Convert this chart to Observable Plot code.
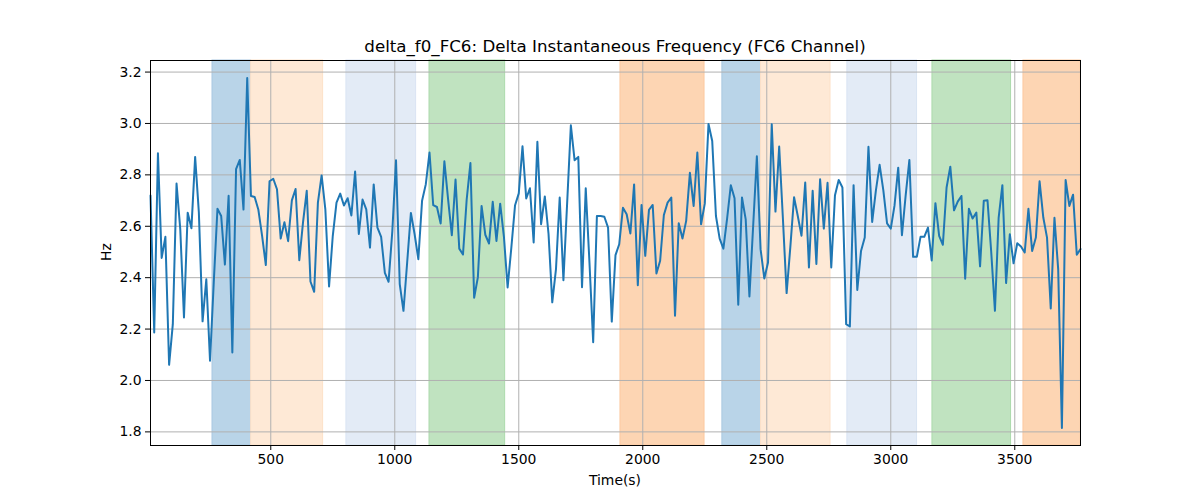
<!DOCTYPE html>
<html>
<head>
<meta charset="utf-8">
<script src="https://cdn.jsdelivr.net/npm/d3@7"></script>
<script src="https://cdn.jsdelivr.net/npm/@observablehq/plot@0.6"></script>
<style>
  html, body { margin: 0; padding: 0; background: #fff; }
  #wrap { position: relative; width: 1200px; height: 500px; font-family: "DejaVu Sans", sans-serif; }
  #title { position: absolute; left: 150px; width: 930px; top: 38px; text-align: center; font-size: 16.67px; line-height: 17px; color: #000; white-space: nowrap; }
  #xlabel { position: absolute; left: 150px; width: 930px; top: 473px; text-align: center; font-size: 13.9px; line-height: 14px; color: #000; }
  #ylabel { position: absolute; left: 106px; top: 252px; transform: translate(-50%, -50%) rotate(-90deg); font-size: 13.9px; line-height: 14px; color: #000; }
  svg { display: block; }
</style>
</head>
<body>
<div id="wrap">
  <div id="chart"></div>
  <div id="title">delta_f0_FC6: Delta Instantaneous Frequency (FC6 Channel)</div>
  <div id="xlabel">Time(s)</div>
  <div id="ylabel">Hz</div>
</div>
<script>
const times = [
  15,30,45,60,75,90,105,120,135,150,
  165,180,195,210,225,240,255,270,285,300,
  315,330,345,360,375,390,405,420,435,450,
  465,480,495,510,525,540,555,570,585,600,
  615,630,645,660,675,690,705,720,735,750,
  765,780,795,810,825,840,855,870,885,900,
  915,930,945,960,975,990,1005,1020,1035,1050,
  1065,1080,1095,1110,1125,1140,1155,1170,1185,1200,
  1215,1230,1245,1260,1275,1290,1305,1320,1335,1350,
  1365,1380,1395,1410,1425,1440,1455,1470,1485,1500,
  1515,1530,1545,1560,1575,1590,1605,1620,1635,1650,
  1665,1680,1695,1710,1725,1740,1755,1770,1785,1800,
  1815,1830,1845,1860,1875,1890,1905,1920,1935,1950,
  1965,1980,1995,2010,2025,2040,2055,2070,2085,2100,
  2115,2130,2145,2160,2175,2190,2205,2220,2235,2250,
  2265,2280,2295,2310,2325,2340,2355,2370,2385,2400,
  2415,2430,2445,2460,2475,2490,2505,2520,2535,2550,
  2565,2580,2595,2610,2625,2640,2655,2670,2685,2700,
  2715,2730,2745,2760,2775,2790,2805,2820,2835,2850,
  2865,2880,2895,2910,2925,2940,2955,2970,2985,3000,
  3015,3030,3045,3060,3075,3090,3105,3120,3135,3150,
  3165,3180,3195,3210,3225,3240,3255,3270,3285,3300,
  3315,3330,3345,3360,3375,3390,3405,3420,3435,3450,
  3465,3480,3495,3510,3525,3540,3555,3570,3585,3600,
  3615,3630,3645,3660,3675,3690,3705,3720,3735,3750,
  3765
];

const hz = [
  2.72,2.187,2.884,2.477,2.559,2.061,2.219,2.766,2.589,2.245,
  2.653,2.592,2.870,2.653,2.230,2.394,2.077,2.38,2.668,2.640,
  2.451,2.719,2.109,2.822,2.858,2.665,3.177,2.718,2.714,2.664,
  2.563,2.449,2.775,2.785,2.744,2.552,2.616,2.542,2.701,2.745,
  2.468,2.615,2.738,2.385,2.345,2.692,2.798,2.666,2.366,2.563,
  2.692,2.727,2.681,2.709,2.642,2.813,2.570,2.704,2.666,2.517,
  2.763,2.595,2.559,2.419,2.384,2.58,2.857,2.375,2.271,2.46,
  2.652,2.569,2.472,2.699,2.763,2.887,2.682,2.675,2.611,2.853,
  2.705,2.565,2.782,2.513,2.490,2.705,2.846,2.322,2.401,2.679,
  2.567,2.533,2.695,2.543,2.688,2.56,2.362,2.517,2.682,2.728,
  2.911,2.708,2.748,2.537,2.929,2.608,2.716,2.57,2.304,2.433,
  2.712,2.390,2.69,2.993,2.857,2.870,2.363,2.748,2.459,2.149,
  2.640,2.640,2.637,2.595,2.229,2.488,2.530,2.672,2.647,2.572,
  2.763,2.371,2.683,2.485,2.664,2.683,2.416,2.466,2.644,2.692,
  2.712,2.252,2.612,2.552,2.621,2.808,2.679,2.887,2.608,2.688,
  2.998,2.932,2.640,2.552,2.513,2.63,2.760,2.709,2.295,2.712,
  2.627,2.327,2.60,2.872,2.511,2.397,2.459,2.997,2.657,2.910,
  2.63,2.340,2.52,2.713,2.640,2.563,2.770,2.440,2.738,2.453,
  2.783,2.591,2.769,2.440,2.721,2.780,2.751,2.219,2.210,2.760,
  2.352,2.504,2.556,2.909,2.617,2.74,2.839,2.74,2.611,2.591,
  2.68,2.828,2.565,2.72,2.858,2.481,2.481,2.559,2.559,2.595,
  2.467,2.690,2.563,2.528,2.751,2.832,2.662,2.696,2.718,2.396,
  2.668,2.630,2.653,2.444,2.699,2.701,2.50,2.271,2.634,2.760,
  2.379,2.569,2.456,2.534,2.521,2.498,2.668,2.504,2.556,2.775,
  2.634,2.556,2.280,2.633,2.433,1.815,2.780,2.679,2.723,2.489,
  2.511
];

// shaded intervals
const spanStart = [265, 421, 805, 1140, 1910, 2321, 2477, 2825, 3168, 3535];
const spanEnd   = [421, 711, 1086, 1445, 2249, 2477, 2757, 3106, 3485, 3766];
const spanKind  = ["blue", "lightorange", "lightblue", "green", "orange", "blue", "lightorange", "lightblue", "green", "orange"];
const spanColors = {
  blue: "#b9d4e8",
  lightorange: "#fee9d6",
  lightblue: "#e3ebf6",
  green: "#c0e3c0",
  orange: "#fdd5b3"
};
const spanEdges = {
  blue: "#a9c8e1",
  lightorange: "#fde1c8",
  lightblue: "#d9e4f3",
  green: "#acdaac",
  orange: "#fcc9a0"
};

const xTicks = [500, 1000, 1500, 2000, 2500, 3000, 3500];
const yTicks = [1.8, 2.0, 2.2, 2.4, 2.6, 2.8, 3.0, 3.2];

const series = times.map((t, i) => ({t, v: hz[i]}));
const spans = spanStart.map((s, i) => ({s, e: spanEnd[i], k: spanKind[i]}));

const chart = Plot.plot({
  width: 1200,
  height: 500,
  marginLeft: 150,
  marginRight: 120,
  marginTop: 60,
  marginBottom: 55,
  style: {fontFamily: "DejaVu Sans, sans-serif", fontSize: "13.9px", color: "#000", background: "#fff"},
  x: {domain: [15, 3765]},
  y: {domain: [1.747, 3.245]},
  marks: [
    Plot.rect(spans, {x1: "s", x2: "e", fill: d => spanColors[d.k], stroke: d => spanEdges[d.k], strokeWidth: 1}),
    Plot.gridX(xTicks, {stroke: "#b0b0b0", strokeOpacity: 1, strokeWidth: 1}),
    Plot.gridY(yTicks, {stroke: "#b0b0b0", strokeOpacity: 1, strokeWidth: 1}),
    Plot.line(series, {x: "t", y: "v", stroke: "#1f77b4", strokeWidth: 2, strokeLinejoin: "round"}),
    Plot.axisX(xTicks, {tickSize: 5, tickPadding: 4, label: null, tickFormat: d => String(d), fontSize: 13.9}),
    Plot.axisY(yTicks, {tickSize: 5, tickPadding: 4, label: null, tickFormat: d => d.toFixed(1), fontSize: 13.9}),
    Plot.frame({stroke: "#000", strokeWidth: 1})
  ],
  color: {type: "identity"}
});

document.getElementById("chart").appendChild(chart);
</script>
</body>
</html>
